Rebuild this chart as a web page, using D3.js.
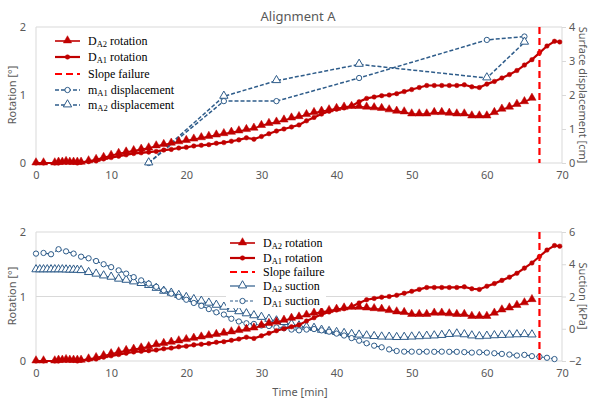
<!DOCTYPE html>
<html><head><meta charset="utf-8">
<script src="https://cdn.jsdelivr.net/npm/d3@7"></script>
<style>body{margin:0;background:#fff}svg{display:block}</style>
</head><body>
<svg id="c" width="591" height="399"></svg>
<script>
const xTicks = [0,10,20,30,40,50,60,70];
const rotTicks = [0,1,2];
const dispTicks = [0,1,2,3,4];
const sucTicks = [-2,0,2,4,6];
const failureTime = 67;

const rotA2Time = [0,1,2.5,3,3.5,4,4.5,5,5.5,6,7,8,9,10,11,12,13,14,15,16,17,18,19,20,21,22,23,24,25,26,27,28,29,30,31,32,33,34,35,36,37,38,39,40,41,42,43,44,45,46,47,48,49,50,51,52,53,54,55,56,57,58,59,60,61,62,63,64,65,66];
const rotA2 = [0,0,0,0.01,0.01,0.02,0.01,0.01,0.01,0.01,
0.03,0.05,0.08,0.11,0.14,0.16,0.18,0.2,0.22,0.25,
0.27,0.29,0.31,0.33,0.35,0.37,0.39,0.41,0.43,0.45,
0.47,0.49,0.51,0.55,0.58,0.6,0.63,0.66,0.68,0.71,
0.74,0.76,0.78,0.8,0.82,0.83,0.83,0.82,0.81,0.8,
0.78,0.76,0.75,0.72,0.72,0.72,0.74,0.74,0.73,0.72,
0.72,0.69,0.69,0.69,0.74,0.79,0.82,0.86,0.9,0.95];

const rotA1Time = [0,1,2.5,3,3.5,4,4.5,5,5.5,6,7,8,9,10,11,12,13,14,15,16,17,18,19,20,21,22,23,24,25,26,27,28,29,30,31,32,33,34,35,36,37,38,39,40,41,42,43,44,45,46,47,48,49,50,51,52,53,54,55,56,57,58,59,60,61,62,63,64,65,66,67,68,69,69.7];
const rotA1 = [0,0,0,0,0.01,0.01,0.01,0.01,0,0.01,
0.02,0.03,0.06,0.08,0.1,0.12,0.14,0.15,0.16,0.17,
0.19,0.2,0.22,0.23,0.25,0.26,0.27,0.29,0.3,0.32,
0.34,0.37,0.35,0.39,0.43,0.47,0.5,0.53,0.56,0.62,
0.67,0.72,0.76,0.79,0.81,0.84,0.9,0.95,0.97,0.99,
1.0,1.02,1.05,1.08,1.11,1.14,1.14,1.14,1.14,1.14,
1.15,1.12,1.11,1.16,1.2,1.25,1.3,1.36,1.44,1.52,
1.62,1.72,1.79,1.78];

const dispTime = [15,25,32,43,60,65];
const dispA1 = [0,1.82,1.82,2.5,3.62,3.72];
const dispA2 = [0,1.96,2.42,2.9,2.5,3.55];

const sucA2Time = [0,0.5,1,1.5,2,2.5,3,3.5,4,4.5,5,5.5,6,7,8,9,10,11,12,13,14,15,16,17,18,19,20,21,22,23,24,25,26,27,28,29,30,31,32,33,34,35,36,37,38,39,40,41,42,43,44,45,46,47,48,49,50,51,52,53,54,55,56,57,58,59,60,61,62,63,64,65,66];
const sucA2 = [3.65,3.65,3.65,3.65,3.65,3.65,3.65,3.65,3.64,3.63,3.63,3.62,3.6,
3.48,3.38,3.27,3.19,3.07,3.0,2.9,2.8,2.68,2.5,
2.32,2.2,2.06,1.93,1.8,1.7,1.58,1.45,1.33,1.2,
1.05,0.92,0.8,0.7,0.58,0.48,0.38,0.26,0.17,0.08,
0.02,-0.1,-0.18,-0.24,-0.3,-0.36,-0.4,-0.45,-0.49,-0.52,
-0.53,-0.55,-0.54,-0.52,-0.5,-0.47,-0.45,-0.42,-0.36,-0.33,
-0.38,-0.45,-0.5,-0.47,-0.44,-0.42,-0.4,-0.38,-0.37,-0.39];

const sucA1Time = [0,1,2,3,4,5,6,7,8,9,10,11,12,13,14,15,16,17,18,19,20,21,22,23,24,25,26,27,28,29,30,31,32,33,34,35,36,37,38,39,40,41,42,43,44,45,46,47,48,49,50,51,52,53,54,55,56,57,58,59,60,61,62,63,64,65,66,67,68,69];
const sucA1 = [4.66,4.7,4.62,4.93,4.8,4.66,4.47,4.37,4.2,4.0,3.82,
3.62,3.42,3.2,3.0,2.8,2.6,2.38,2.18,1.98,1.8,
1.6,1.42,1.22,1.02,0.88,0.62,0.45,0.34,0.3,0.2,
0.17,0.08,0.03,-0.05,-0.1,-0.05,-0.02,-0.1,-0.18,-0.3,
-0.42,-0.58,-0.74,-0.9,-1.05,-1.15,-1.28,-1.38,-1.42,-1.42,
-1.43,-1.42,-1.43,-1.42,-1.43,-1.43,-1.45,-1.48,-1.46,-1.48,
-1.52,-1.56,-1.6,-1.66,-1.62,-1.7,-1.74,-1.8,-1.88];

const RED = "#C00000", FAIL = "#FF0000", BLUE = "#2E5C8A", GRID = "#D9D9D9", TXT = "#595959";
const svg = d3.select("#c");
const x = d3.scaleLinear().domain([0,70]).range([36,562]);
const zip = (t,v) => t.map((d,i)=>[d,v[i]]);

function drawSeries(g, data, xs, ys, color, width, dash, marker, filled, msize) {
  const line = d3.line().x(d=>xs(d[0])).y(d=>ys(d[1]));
  g.append("path").datum(data).attr("d", line).attr("fill","none")
    .attr("stroke", color).attr("stroke-width", width)
    .attr("stroke-dasharray", dash || null);
  const sym = d3.symbol().type(marker === "tri" ? d3.symbolTriangle : d3.symbolCircle).size(msize);
  g.selectAll(null).data(data).enter().append("path")
    .attr("d", sym)
    .attr("transform", d=>`translate(${xs(d[0])},${ys(d[1]) + (marker==="tri"? -0.5:0)})`)
    .attr("fill", filled ? color : "#fff")
    .attr("stroke", color).attr("stroke-width", filled ? 0.5 : 1);
}

function axes(g, yL, yR, lTicks, rTicks, gridVals, yBottom, xLabelY) {
  g.selectAll(null).data(gridVals).enter().append("line")
    .attr("x1", 36).attr("x2", 562).attr("y1", d=>yL(d)).attr("y2", d=>yL(d))
    .attr("stroke", GRID).attr("stroke-width", 1);
  g.append("line").attr("x1",36).attr("x2",36).attr("y1",yL(2)).attr("y2",yL(0)).attr("stroke",GRID);
  g.append("line").attr("x1",562).attr("x2",562).attr("y1",yL(2)).attr("y2",yL(0)).attr("stroke",GRID);
  const ax = g.append("g").attr("transform",`translate(0,${yBottom})`)
    .call(d3.axisBottom(x).tickValues(xTicks).tickSize(0).tickPadding(xLabelY));
  ax.select(".domain").remove();
  const al = g.append("g").attr("transform","translate(36,0)")
    .call(d3.axisLeft(yL).tickValues(lTicks).tickSize(0).tickPadding(10).tickFormat(d3.format("d")));
  al.select(".domain").remove();
  const ar = g.append("g").attr("transform","translate(562,0)")
    .call(d3.axisRight(yR).tickValues(rTicks).tickSize(4).tickPadding(3).tickFormat(d3.format("d")));
  ar.select(".domain").remove();
  ar.selectAll("line").attr("stroke", GRID);
  g.selectAll(".tick text").attr("fill", TXT).style("font-family","'Noto Sans', 'Open Sans', sans-serif").style("font-size","11px");
}

function legendItem(g, lx, ly, label, sub, rest, color, width, dash, marker, filled, msize) {
  g.append("line").attr("x1", lx).attr("x2", lx+25).attr("y1", ly).attr("y2", ly)
    .attr("stroke", color).attr("stroke-width", width).attr("stroke-dasharray", dash || null);
  if (marker) {
    const sym = d3.symbol().type(marker === "tri" ? d3.symbolTriangle : d3.symbolCircle).size(msize);
    g.append("path").attr("d", sym).attr("transform", `translate(${lx+12.5},${ly + (marker==="tri"?-0.5:0)})`)
      .attr("fill", filled ? color : "#fff").attr("stroke", color).attr("stroke-width", filled?0.5:1);
  }
  const t = g.append("text").attr("x", lx+33).attr("y", ly+4)
    .style("font-family","'Liberation Serif','Times New Roman',serif").style("font-size","12px").attr("fill","#000");
  t.append("tspan").text(label);
  if (sub) {
    t.append("tspan").text(sub).style("font-size","8.5px").attr("dy", 2);
    t.append("tspan").text(rest).attr("dy", -2);
  }
}

// ---------- Top panel ----------
const yT = d3.scaleLinear().domain([0,2]).range([163,27]);
const yTR = d3.scaleLinear().domain([0,4]).range([163,27]);
const gT = svg.append("g");
axes(gT, yT, yTR, rotTicks, dispTicks, [0,2], 163, 8);

svg.append("text").attr("x", 298).attr("y", 21).attr("text-anchor","middle")
  .style("font-family","'Noto Sans','Open Sans',sans-serif").style("font-size","13px").attr("fill", TXT).text("Alignment A");

drawSeries(gT, zip(dispTime, dispA1), x, yTR, BLUE, 1.5, "4,2", "circ", false, 22);
drawSeries(gT, zip(dispTime, dispA2), x, yTR, BLUE, 1.5, "4,2", "tri", false, 30);
drawSeries(gT, zip(rotA2Time, rotA2), x, yT, RED, 1.6, null, "tri", true, 30);
drawSeries(gT, zip(rotA1Time, rotA1), x, yT, RED, 2.2, null, "circ", true, 16);
gT.append("line").attr("x1", x(failureTime)).attr("x2", x(failureTime)).attr("y1", yT(2)).attr("y2", yT(0))
  .attr("stroke", FAIL).attr("stroke-width", 2.2).attr("stroke-dasharray","7,4");

const lgT = svg.append("g");
legendItem(lgT, 55, 41, "D", "A2", " rotation", RED, 1.6, null, "tri", true, 30);
legendItem(lgT, 55, 57, "D", "A1", " rotation", RED, 2.2, null, "circ", true, 16);
legendItem(lgT, 55, 74, "Slope failure", null, null, FAIL, 2.2, "7,4", null);
legendItem(lgT, 55, 90, "m", "A1", " displacement", BLUE, 1.5, "4,2", "circ", false, 22);
legendItem(lgT, 55, 105, "m", "A2", " displacement", BLUE, 1.5, "4,2", "tri", false, 30);

svg.append("text").attr("transform","translate(16,95) rotate(-90)").attr("text-anchor","middle")
  .style("font-family","'Noto Sans','Open Sans',sans-serif").style("font-size","11px").attr("fill",TXT).text("Rotation [°]");
svg.append("text").attr("transform","translate(579,95) rotate(90)").attr("text-anchor","middle")
  .style("font-family","'Noto Sans','Open Sans',sans-serif").style("font-size","11px").attr("fill",TXT).text("Surface displacement [cm]");

// ---------- Bottom panel ----------
const yB = d3.scaleLinear().domain([0,2]).range([361,232]);
const yBR = d3.scaleLinear().domain([-2,6]).range([361,232]);
const gB = svg.append("g");
axes(gB, yB, yBR, rotTicks, sucTicks, [0,1,2], 361, 8);

drawSeries(gB, zip(sucA2Time, sucA2), x, yBR, BLUE, 1.2, null, "tri", false, 30);
drawSeries(gB, zip(sucA1Time, sucA1), x, yBR, BLUE, 1.2, "3,2", "circ", false, 22);
drawSeries(gB, zip(rotA2Time, rotA2), x, yB, RED, 1.6, null, "tri", true, 30);
drawSeries(gB, zip(rotA1Time, rotA1), x, yB, RED, 2.2, null, "circ", true, 16);
gB.append("line").attr("x1", x(failureTime)).attr("x2", x(failureTime)).attr("y1", yB(2)).attr("y2", yB(0))
  .attr("stroke", FAIL).attr("stroke-width", 2.2).attr("stroke-dasharray","7,4");

const lgB = svg.append("g");
lgB.append("rect").attr("x", 226).attr("y", 235).attr("width", 100).attr("height", 73).attr("fill","#fff");
legendItem(lgB, 230, 243, "D", "A2", " rotation", RED, 1.6, null, "tri", true, 30);
legendItem(lgB, 230, 258, "D", "A1", " rotation", RED, 2.2, null, "circ", true, 16);
legendItem(lgB, 230, 272, "Slope failure", null, null, FAIL, 2.2, "7,4", null);
legendItem(lgB, 230, 286, "D", "A2", " suction", BLUE, 1.2, null, "tri", false, 30);
legendItem(lgB, 230, 301, "D", "A1", " suction", BLUE, 1.2, "3,2", "circ", false, 22);

svg.append("text").attr("transform","translate(16,296) rotate(-90)").attr("text-anchor","middle")
  .style("font-family","'Noto Sans','Open Sans',sans-serif").style("font-size","11px").attr("fill",TXT).text("Rotation [°]");
svg.append("text").attr("transform","translate(579,296) rotate(90)").attr("text-anchor","middle")
  .style("font-family","'Noto Sans','Open Sans',sans-serif").style("font-size","11px").attr("fill",TXT).text("Suction [kPa]");
svg.append("text").attr("x", 300).attr("y", 396).attr("text-anchor","middle")
  .style("font-family","'Noto Sans','Open Sans',sans-serif").style("font-size","11px").attr("fill",TXT).text("Time [min]");
</script>
</body></html>
